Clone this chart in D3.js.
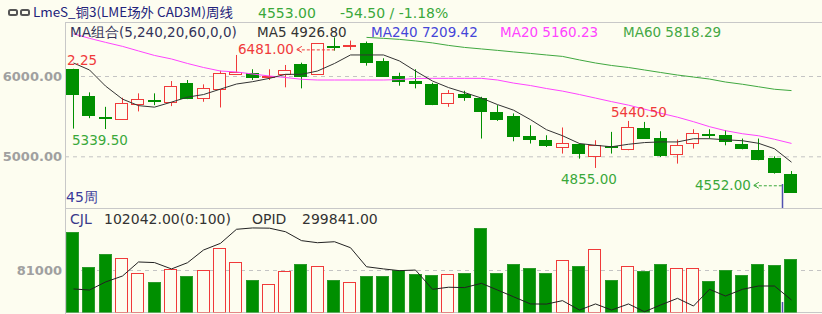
<!DOCTYPE html>
<meta charset="utf-8">
<style>
  body { margin: 0; background: #fdfdf0; }
  svg { display: block; font-family: "DejaVu Sans", Verdana, sans-serif; }
  .grid line { stroke: #c4c4c4; stroke-dasharray: 4px 4px; }
  .grid text { fill: #a0a0a0; font-weight: bold; font-size: 13px; font-family: "DejaVu Sans", sans-serif; }
  .frame { stroke: #c8c8c8; stroke-width: 1; }
  .ma { fill: none; stroke-width: 1; }
</style>
<body>
<svg id="chart" width="822" height="314"></svg>

<script src="https://d3js.org/d3.v7.min.js"></script>
<script>

// ---- data ----
var weeks = d3.range(1, 46); // 45 weekly bars ("45周")

var open  = [6087,5754,5485,5459,5650,5700,5679,5908,5721,5837,6025,6040,5990,6021,6150,6025,6375,6385,6416,6187,
             6004,5941,5896,5666,5771,5721,5554,5500,5250,5209,5116,5159,5000,5125,5096,5354,5234,5025,5166,5275,
             5262,5159,5084,4984,4784];
var high  = [6090,5796,5616,5729,5784,5784,5937,5950,5896,6066,6262,6084,6084,6137,6166,6409,6481,6441,6429,6221,
             6041,6084,5916,5825,5816,5741,5637,5534,5387,5262,5359,5162,5200,5304,5440.5,5428,5312,5209,5337,5337,
             5325,5221,5221,5000,4816];
var low   = [5345,5475,5339.5,5459,5559,5637,5625,5712,5679,5608,6025,5950,5950,5859,5846,6025,6316,6325,6129,5991,
             5879,5846,5637,5616,5691,5221,5441,5187,5159,5116,5034,4971,4855,5034,5075,5230,4991,4909,5096,5221,
             5137,5087,4950,4784,4552];
var close = [5775,5512,5475,5667,5712,5690,5875,5721,5846,6033,6050,5991,5996,6075,6004,6409,6368,6392,6171,6000,
             5941,5909,5650,5784,5734,5566,5462,5254,5212,5146,5171,5046,5137,5115,5366,5234,5012,5146,5284,5271,
             5187,5104,4962,4804,4553];

var ma5  = [6162,6075,5875,5712,5631,5612,5675,5737,5769,5837,5900,5929,5971,6021,6021,6062,6156,6262,6262,6262,
            6187,6062,5937,5856,5794,5725,5644,5575,5456,5331,5256,5159,5137,5119,5150,5171,5179,5179,5219,5219,
            5206,5194,5162,5094,4926.8];
var ma20 = [6525,6469,6419,6369,6312,6256,6212,6156,6106,6062,6050,6025,6000,5981,5959,5950,5950,5950,5950,5950,
            5956,5969,5971,5971,5971,5971,5950,5912,5881,5844,5812,5769,5725,5681,5637,5587,5537,5487,5431,5369,
            5319,5281,5256,5212,5160.23];
var ma60 = [null,null,null,null,null,null,null,null,null,null,null,null,null,null,null,null,null,null,6481,6469,
            6456,6437,6412,6381,6356,6337,6319,6300,6281,6262,6244,6200,6162,6131,6106,6075,6044,6012,5987,5962,
            5925,5897,5866,5835,5818.29];

var volume = [153700,86200,111900,103600,75800,58400,82300,68800,80400,122800,97000,62300,53400,79700,93200,88100,
              62300,57900,68800,68800,80400,73600,70800,72700,75800,161400,75800,92600,84300,75800,100900,88100,
              122100,62300,88100,79700,92600,85400,85400,59800,81600,70800,92600,90600,102042];
var opid = [308900,308000,314600,319500,331000,330500,325300,330400,340800,346300,357800,358900,358700,355800,348500,
            346800,347600,342700,327100,325300,323900,324400,308600,310300,310000,313500,308000,302500,296600,296500,
            299300,291600,296600,291600,296600,290200,295700,301200,294900,308600,303100,308600,311300,311300,299841];

var priceTicks = [5000, 6000];
var volumeTicks = [81000];

// ---- layout ----
var W = 822,
    axisX = 65,
    topLine = 22, midLine = 208, bottomLine = 312.5;

var RED = "#f03a3a", GREEN = "#008f00", BG = "#fdfdf0";

var svg = d3.select("#chart");

var x = d3.scaleBand()
  .domain(weeks)
  .range([64.5, 64.5 + 16.32 * 45])
  .paddingInner(0.185)
  .paddingOuter(0.0925);

var y = d3.scaleLinear().domain([5000, 6000]).range([156.3, 76]);
var yv = d3.scaleLinear().domain([0, 81000]).range([312, 270]);
var yo = d3.scaleLinear().domain([290000, 340000]).range([312, 251]);

function cx(i) { return Math.round(x(weeks[i]) + x.bandwidth() / 2) + 0.5; }

// clip regions for both panels
var defs = svg.append("defs");
defs.append("clipPath").attr("id", "mainClip").append("rect")
  .attr("x", axisX).attr("y", topLine).attr("width", W - axisX).attr("height", midLine - topLine);
defs.append("clipPath").attr("id", "volClip").append("rect")
  .attr("x", axisX).attr("y", midLine).attr("width", W - axisX).attr("height", bottomLine - midLine);

// gridlines + tick labels
svg.append("g").attr("class", "grid")
  .attr("transform", "translate(" + axisX + ",0)")
  .call(d3.axisLeft(y).tickValues(priceTicks).tickFormat(d3.format(".2f")).tickSize(-(W - axisX)).tickPadding(3))
  .call(function(g) { g.select(".domain").remove(); });

svg.append("g").attr("class", "grid")
  .attr("transform", "translate(" + axisX + ",0)")
  .call(d3.axisLeft(yv).tickValues(volumeTicks).tickFormat(d3.format("d")).tickSize(-(W - axisX)).tickPadding(3))
  .call(function(g) { g.select(".domain").remove(); });

// frame lines
svg.append("line").attr("class", "frame").attr("x1", axisX).attr("x2", W).attr("y1", topLine + 0.5).attr("y2", topLine + 0.5);
svg.append("line").attr("class", "frame").attr("x1", axisX).attr("x2", W).attr("y1", midLine + 0.5).attr("y2", midLine + 0.5);
svg.append("line").attr("class", "frame").attr("x1", axisX).attr("x2", W).attr("y1", bottomLine).attr("y2", bottomLine);
svg.append("line").attr("class", "frame").attr("x1", axisX + 0.5).attr("x2", axisX + 0.5).attr("y1", topLine).attr("y2", 314);

// ---- candles ----
var main = svg.append("g").attr("clip-path", "url(#mainClip)");

var candle = main.selectAll(".candle")
  .data(weeks.map(function(w, i) { return i; }))
  .enter().append("g")
  .attr("class", "candle");

candle.each(function(i) {
  var g = d3.select(this);
  var up = close[i] >= open[i];
  var col = up ? RED : GREEN;
  var c = cx(i);
  var top = Math.round(y(Math.max(open[i], close[i]))) + 0.5;
  var bot = Math.round(y(Math.min(open[i], close[i]))) + 0.5;
  if (bot - top < 1) bot = top + 1;
  g.append("line").attr("x1", c).attr("x2", c)
    .attr("y1", y(high[i])).attr("y2", top).attr("stroke", col);
  g.append("line").attr("x1", c).attr("x2", c)
    .attr("y1", bot).attr("y2", y(low[i])).attr("stroke", col);
  g.append("rect")
    .attr("x", Math.round(x(weeks[i])) + 0.5)
    .attr("y", top)
    .attr("width", Math.round(x.bandwidth()) - 1)
    .attr("height", bot - top)
    .attr("fill", up ? BG : GREEN)
    .attr("stroke", col);
});

// moving averages
function maLine(arr) {
  return d3.line()
    .defined(function(d) { return d != null; })
    .x(function(d, i) { return cx(i); })
    .y(function(d) { return y(d); })(arr);
}
main.append("path").attr("class", "ma").attr("stroke", "#40a840").attr("d", maLine(ma60));
main.append("path").attr("class", "ma").attr("stroke", "#ff44ff").attr("d", maLine(ma20));
main.append("path").attr("class", "ma").attr("stroke", "#333333").attr("d", maLine(ma5));

// ---- volume ----
var vol = svg.append("g").attr("clip-path", "url(#volClip)");
vol.selectAll(".vbar")
  .data(volume)
  .enter().append("rect")
  .attr("class", "vbar")
  .attr("x", function(d, i) { return Math.round(x(weeks[i])) + 0.5; })
  .attr("y", function(d) { return Math.round(yv(d)) + 0.5; })
  .attr("width", Math.round(x.bandwidth()) - 1)
  .attr("height", function(d) { return 312 - Math.round(yv(d)); })
  .attr("fill", function(d, i) { return close[i] >= open[i] ? BG : GREEN; })
  .attr("stroke", function(d, i) { return close[i] >= open[i] ? RED : "#2a9a2a"; });

vol.append("path").attr("class", "ma").attr("stroke", "#222")
  .attr("d", d3.line().x(function(d, i) { return cx(i); }).y(function(d) { return yo(d); })(opid));

// cursor line on the last bar
var cur = cx(44) - 9;
svg.append("line").attr("x1", cur).attr("x2", cur).attr("y1", 184).attr("y2", midLine)
  .attr("stroke", "#5050b0").attr("stroke-width", 1.5);
svg.append("line").attr("x1", cur).attr("x2", cur).attr("y1", 302).attr("y2", bottomLine)
  .attr("stroke", "#5050b0").attr("stroke-width", 1.5);

// ---- high / low marks ----
function mark(txt, col, tx, ty, arrowTo) {
  var t = svg.append("text").attr("x", tx).attr("y", ty).attr("fill", col)
    .attr("font-size", 13.5).attr("dy", "0.35em").text(txt);
  if (arrowTo) {
    var ax = tx + t.node().getComputedTextLength() + 3;
    svg.append("path").attr("d", "M" + (ax + 5) + "," + (ty - 3) + "L" + ax + "," + ty + "L" + (ax + 5) + "," + (ty + 3))
      .attr("fill", "none").attr("stroke", col);
    svg.append("line").attr("x1", ax).attr("x2", arrowTo).attr("y1", ty + 0.5).attr("y2", ty + 0.5)
      .attr("stroke", col).attr("stroke-dasharray", "3,2");
  }
}
mark("2.25", RED, 67, y(6200), null);
mark("5339.50", "#3aa83a", 72, y(5339.5) + 11, null);
mark("6481.00", RED, 238, y(6481) + 12, cx(16));
mark("5440.50", RED, 611, y(5440.5) - 9, null);
mark("4855.00", "#3aa83a", 561, y(4855) + 11, null);
mark("4552.00", "#3aa83a", 695, y(4552) - 7, cur);

// ---- header texts ----
var icon = svg.append("g").attr("fill", "none").attr("stroke", "#555").attr("stroke-width", 2);
icon.append("rect").attr("x", 9).attr("y", 10).attr("width", 8).attr("height", 5).attr("rx", 1.5);
icon.append("rect").attr("x", 21).attr("y", 10).attr("width", 8).attr("height", 5).attr("rx", 1.5);

svg.append("text").attr("x", 33).attr("y", 17).attr("fill", "#22227a")
  .attr("font-family", "'Noto Sans CJK SC', sans-serif").attr("font-size", 13)
  .attr("textLength", 200).attr("lengthAdjust", "spacingAndGlyphs")
  .text("LmeS_铜3(LME场外 CAD3M)周线");
svg.append("text").attr("x", 258).attr("y", 18).attr("fill", "#3aa83a").attr("font-size", 14).text("4553.00");
svg.append("text").attr("x", 340).attr("y", 18).attr("fill", "#3aa83a").attr("font-size", 14).text("-54.50 / -1.18%");

var maRow = [
  {t: "MA组合(5,240,20,60,0,0)", x: 70, c: "#33335a"},
  {t: "MA5 4926.80", x: 257, c: "#333333"},
  {t: "MA240 7209.42", x: 371, c: "#4545d8"},
  {t: "MA20 5160.23", x: 500, c: "#ff44ff"},
  {t: "MA60 5818.29", x: 623, c: "#44a844"}
];
svg.selectAll(".mahead").data(maRow).enter().append("text")
  .attr("class", "mahead")
  .attr("x", function(d) { return d.x; }).attr("y", 37)
  .attr("fill", function(d) { return d.c; })
  .attr("font-size", 13.5)
  .text(function(d) { return d.t; });

svg.append("text").attr("x", 66).attr("y", 202).attr("fill", "#3a3a9a").attr("font-size", 14).text("45周");

var volRow = [
  {t: "CJL", x: 70, c: "#3a3a8a"},
  {t: "102042.00(0:100)", x: 104, c: "#333333"},
  {t: "OPID", x: 252, c: "#333333"},
  {t: "299841.00", x: 302, c: "#333333"}
];
svg.selectAll(".volhead").data(volRow).enter().append("text")
  .attr("class", "volhead")
  .attr("x", function(d) { return d.x; }).attr("y", 224)
  .attr("fill", function(d) { return d.c; })
  .attr("font-size", 14)
  .text(function(d) { return d.t; });

</script>
</body>
